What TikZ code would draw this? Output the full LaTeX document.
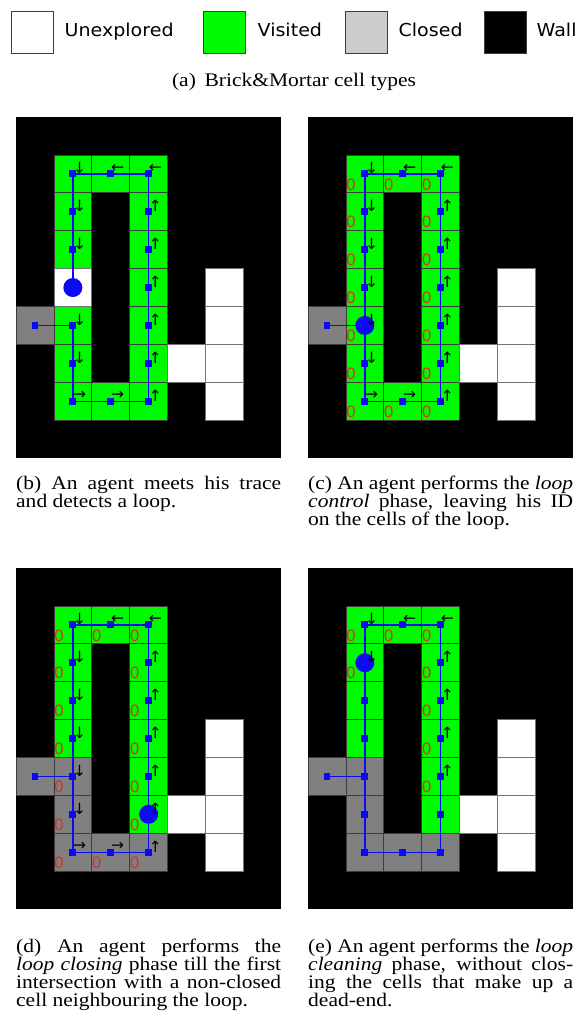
\documentclass[tikz,border=0pt]{standalone}
\usepackage{fontspec}
\setmainfont{Liberation Serif}[FakeStretch=1.12]
\newfontfamily\legendfont{DejaVu Sans}[FakeStretch=1.07]
\newfontfamily\glyphfont{DejaVu Sans}
\newfontfamily\idfont{Liberation Sans}
\usetikzlibrary{arrows.meta, positioning}
\definecolor{visGreen}{RGB}{0,250,0}
\definecolor{closedGray}{RGB}{128,128,128}
\definecolor{legGray}{RGB}{204,204,204}
\definecolor{traceBlue}{RGB}{10,10,245}
\definecolor{idRed}{RGB}{225,45,30}
\definecolor{edgeGray}{RGB}{60,60,60}
\tolerance=9999
\hyphenpenalty=10000
\exhyphenpenalty=10000

\begin{document}
\begin{tikzpicture}[x=1pt, y=-1pt,
    cell/.style={rectangle, draw=edgeGray, line width=0.7pt, minimum size=37.9pt, inner sep=0pt, outer sep=0pt},
    visited/.style={cell, fill=visGreen},
    closed/.style={cell, fill=closedGray},
    unexpl/.style={cell, fill=white, draw=black!55},
    trace/.style={draw=traceBlue, line width=1.4pt},
    tracedot/.style={rectangle, fill=traceBlue, minimum size=6.8pt, inner sep=0pt},
    agent/.style={circle, fill=traceBlue, minimum size=19pt, inner sep=0pt},
    dirglyph/.style={font=\glyphfont\fontsize{15.5}{15.5}\selectfont, inner sep=0pt},
    idmark/.style={font=\idfont\fontsize{16.5}{16.5}\selectfont, text=idRed, inner sep=0pt},
    legbox/.style={rectangle, draw=edgeGray, line width=0.9pt, minimum size=42pt, inner sep=0pt},
    legtext/.style={font=\legendfont\fontsize{17.8}{20}\selectfont, inner sep=0pt, text height=13.5pt, text depth=3.7pt},
    subcap/.style={font=\fontsize{19.2}{18.3}\selectfont, inner sep=0pt, text width=265pt, align=justify}
]
\useasboundingbox (0,0) rectangle (583,1015);

% legend
\node[legbox, fill=white] (boxunexpl) at (32,32) {};
\node[legtext, right=11pt of boxunexpl] (txtunexpl) {Unexplored};
\node[legbox, fill=visGreen] (boxvisited) at (224,32) {};
\node[legtext, right=12pt of boxvisited] (txtvisited) {Visited};
\node[legbox, fill=legGray] (boxclosed) at (366,32) {};
\node[legtext, right=11pt of boxclosed] (txtclosed) {Closed};
\node[legbox, fill=black] (boxwall) at (505,32) {};
\node[legtext, right=10pt of boxwall] (txtwall) {Wall};
\node[font=\fontsize{19.2}{18.3}\selectfont, inner sep=0pt, anchor=base] (capa) at (294,86) {(a)\hspace{0.45em}Brick\&Mortar cell types};

% (b) agent meets its trace
\begin{scope}[shift={(16,117)}, x=37.9pt, y=-37.9pt]
  \fill[black] (0,0) rectangle (7,9);
  \foreach \i/\j in {1/1,2/1,3/1,1/2,3/2,1/3,3/3,3/4,1/5,3/5,1/6,3/6,1/7,2/7,3/7}
    \node[visited] (b\i\j) at (\i+.5,\j+.5) {};
  \foreach \i/\j in {1/4,5/4,5/5,4/6,5/6,5/7}
    \node[unexpl] (b\i\j) at (\i+.5,\j+.5) {};
  \node[closed] (b05) at (0.5,5.5) {};
  \draw[trace] (b05.center) -- (b15.center) -- (b17.center) -- (b37.center) -- (b31.center) -- (b11.center) -- (b14.center);
  \foreach \i/\j in {0/5,1/5,1/6,1/7,2/7,3/7,3/6,3/5,3/4,3/3,3/2,3/1,2/1,1/1,1/2,1/3}
    \node[tracedot] (bd\i\j) at (b\i\j.center) {};
  \node[agent] (bagent) at (b14.center) {};
  \foreach \i/\j/\g in {1/1/↓,2/1/←,3/1/←,1/2/↓,1/3/↓,1/5/↓,1/6/↓,1/7/→,2/7/→,3/2/↑,3/3/↑,3/4/↑,3/5/↑,3/6/↑,3/7/↑}
    \node[dirglyph] (bg\i\j) at ([shift={(6.8pt,5.5pt)}]b\i\j.center) {\g};
\end{scope}
\node[subcap, anchor=base west] (capb) at (16,489) {(b) An agent meets his trace\linebreak and detects a loop.};

% (c) loop control
\begin{scope}[shift={(308,117)}, x=37.9pt, y=-37.9pt]
  \fill[black] (0,0) rectangle (7,9);
  \foreach \i/\j in {1/1,2/1,3/1,1/2,3/2,1/3,3/3,1/4,3/4,1/5,3/5,1/6,3/6,1/7,2/7,3/7}
    \node[visited] (c\i\j) at (\i+.5,\j+.5) {};
  \foreach \i/\j in {5/4,5/5,4/6,5/6,5/7}
    \node[unexpl] (c\i\j) at (\i+.5,\j+.5) {};
  \node[closed] (c05) at (0.5,5.5) {};
  \draw[trace] (c05.center) -- (c15.center) -- (c17.center) -- (c37.center) -- (c31.center) -- (c11.center) -- (c15.center);
  \foreach \i/\j in {0/5,1/5,1/6,1/7,2/7,3/7,3/6,3/5,3/4,3/3,3/2,3/1,2/1,1/1,1/2,1/3,1/4}
    \node[tracedot] (cd\i\j) at (c\i\j.center) {};
  \node[agent] (cagent) at (c15.center) {};
  \foreach \i/\j/\g in {1/1/↓,2/1/←,3/1/←,1/2/↓,1/3/↓,1/4/↓,1/5/↓,1/6/↓,1/7/→,2/7/→,3/2/↑,3/3/↑,3/4/↑,3/5/↑,3/6/↑,3/7/↑}
    \node[dirglyph] (cg\i\j) at ([shift={(6.8pt,5.5pt)}]c\i\j.center) {\g};
  \foreach \i/\j in {1/1,1/2,1/3,1/4,1/5,1/6,1/7,2/1,2/7,3/1,3/2,3/3,3/4,3/5,3/6,3/7}
    \node[idmark] (cz\i\j) at ([shift={(-14pt,-10.5pt)}]c\i\j.center) {0};
\end{scope}
\node[subcap, anchor=base west] (capc) at (308,489) {(c) An agent performs the \emph{loop}\linebreak \emph{control} phase, leaving his ID\linebreak on the cells of the loop.};

% (d) loop closing
\begin{scope}[shift={(16,568)}, x=37.9pt, y=-37.9pt]
  \fill[black] (0,0) rectangle (7,9);
  \foreach \i/\j in {1/1,2/1,3/1,1/2,3/2,1/3,3/3,1/4,3/4,3/5,3/6}
    \node[visited] (d\i\j) at (\i+.5,\j+.5) {};
  \foreach \i/\j in {0/5,1/5,1/6,1/7,2/7,3/7}
    \node[closed] (d\i\j) at (\i+.5,\j+.5) {};
  \foreach \i/\j in {5/4,5/5,4/6,5/6,5/7}
    \node[unexpl] (d\i\j) at (\i+.5,\j+.5) {};
  \draw[trace] (d05.center) -- (d15.center) -- (d17.center) -- (d37.center) -- (d31.center) -- (d11.center) -- (d15.center);
  \foreach \i/\j in {0/5,1/5,1/6,1/7,2/7,3/7,3/6,3/5,3/4,3/3,3/2,3/1,2/1,1/1,1/2,1/3,1/4}
    \node[tracedot] (dd\i\j) at (d\i\j.center) {};
  \node[agent] (dagent) at (d36.center) {};
  \foreach \i/\j/\g in {1/1/↓,2/1/←,3/1/←,1/2/↓,1/3/↓,1/4/↓,1/5/↓,1/6/↓,1/7/→,2/7/→,3/2/↑,3/3/↑,3/4/↑,3/5/↑,3/6/↑,3/7/↑}
    \node[dirglyph] (dg\i\j) at ([shift={(6.8pt,5.5pt)}]d\i\j.center) {\g};
  \foreach \i/\j in {1/1,1/2,1/3,1/4,1/5,1/6,1/7,2/1,2/7,3/1,3/2,3/3,3/4,3/5,3/6,3/7}
    \node[idmark] (dz\i\j) at ([shift={(-14pt,-10.5pt)}]d\i\j.center) {0};
\end{scope}
\node[subcap, anchor=base west] (capd) at (16,952) {(d) An agent performs the\linebreak \emph{loop closing} phase till the first\linebreak intersection with a non-closed\linebreak cell neighbouring the loop.};

% (e) loop cleaning
\begin{scope}[shift={(308,568)}, x=37.9pt, y=-37.9pt]
  \fill[black] (0,0) rectangle (7,9);
  \foreach \i/\j in {1/1,2/1,3/1,1/2,3/2,1/3,3/3,1/4,3/4,3/5,3/6}
    \node[visited] (e\i\j) at (\i+.5,\j+.5) {};
  \foreach \i/\j in {0/5,1/5,1/6,1/7,2/7,3/7}
    \node[closed] (e\i\j) at (\i+.5,\j+.5) {};
  \foreach \i/\j in {5/4,5/5,4/6,5/6,5/7}
    \node[unexpl] (e\i\j) at (\i+.5,\j+.5) {};
  \draw[trace] (e05.center) -- (e15.center) -- (e17.center) -- (e37.center) -- (e31.center) -- (e11.center) -- (e15.center);
  \foreach \i/\j in {0/5,1/5,1/6,1/7,2/7,3/7,3/6,3/5,3/4,3/3,3/2,3/1,2/1,1/1,1/2,1/3,1/4}
    \node[tracedot] (ed\i\j) at (e\i\j.center) {};
  \node[agent] (eagent) at (e12.center) {};
  \foreach \i/\j/\g in {1/1/↓,2/1/←,3/1/←,1/2/↓,3/2/↑,3/3/↑,3/4/↑,3/5/↑}
    \node[dirglyph] (eg\i\j) at ([shift={(6.8pt,5.5pt)}]e\i\j.center) {\g};
  \foreach \i/\j in {1/1,1/2,2/1,3/1,3/2,3/3,3/4,3/5}
    \node[idmark] (ez\i\j) at ([shift={(-14pt,-10.5pt)}]e\i\j.center) {0};
\end{scope}
\node[subcap, anchor=base west] (cape) at (308,952) {(e) An agent performs the \emph{loop}\linebreak \emph{cleaning} phase, without clos-\linebreak ing the cells that make up a\linebreak dead-end.};
\end{tikzpicture}
\end{document}
